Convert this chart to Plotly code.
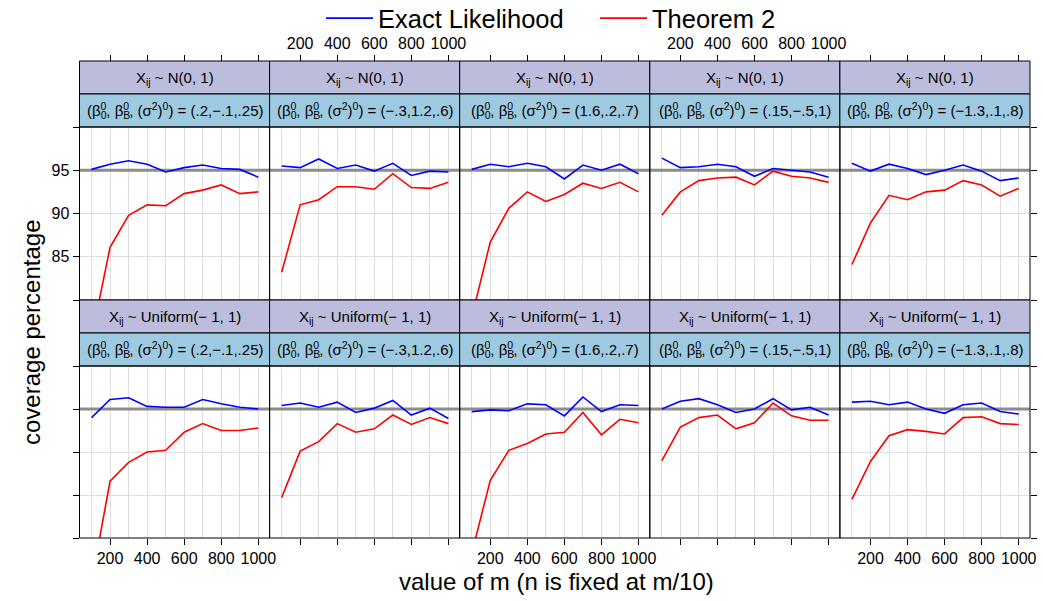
import plotly.graph_objects as go

# sample sizes m on the x axis
m_values = [100, 200, 300, 400, 500, 600, 700, 800, 900, 1000]

# strip labels
design_labels = ["X<sub>ij</sub> ~ N(0, 1)", "X<sub>ij</sub> ~ Uniform(\u2212 1, 1)"]
param_values = [".2,\u2212.1,.25", "\u2212.3,1.2,.6", "1.6,.2,.7", ".15,\u2212.5,1", "\u22121.3,.1,.8"]

# coverage percentages, X_ij ~ N(0, 1)
exact_normal = [
    [95.1, 95.7, 96.1, 95.7, 94.8, 95.3, 95.6, 95.2, 95.1, 94.2],
    [95.5, 95.3, 96.3, 95.2, 95.6, 94.9, 95.8, 94.4, 94.9, 94.8],
    [95.1, 95.7, 95.4, 95.8, 95.4, 94.0, 95.6, 95.0, 95.7, 94.6],
    [96.4, 95.3, 95.4, 95.7, 95.4, 94.3, 95.2, 95.0, 94.8, 94.2],
    [95.8, 94.9, 95.7, 95.2, 94.5, 95.0, 95.6, 94.9, 93.8, 94.1],
]
thm2_normal = [
    [75.6, 86.1, 89.8, 91.0, 90.9, 92.3, 92.7, 93.3, 92.3, 92.5],
    [83.2, 91.0, 91.6, 93.1, 93.1, 92.8, 94.6, 93.0, 92.9, 93.6],
    [78.0, 86.7, 90.6, 92.5, 91.4, 92.2, 93.5, 92.9, 93.6, 92.5],
    [89.8, 92.5, 93.8, 94.1, 94.2, 93.3, 94.9, 94.3, 94.1, 93.6],
    [84.1, 88.9, 92.1, 91.6, 92.5, 92.7, 93.8, 93.3, 92.0, 92.9],
]

# coverage percentages, X_ij ~ Uniform(-1, 1)
exact_uniform = [
    [94.0, 96.1, 96.3, 95.3, 95.2, 95.2, 96.1, 95.6, 95.2, 95.0],
    [95.4, 95.7, 95.2, 95.8, 94.6, 95.1, 96.0, 94.3, 95.1, 93.9],
    [94.7, 94.9, 94.8, 95.6, 95.5, 94.2, 96.4, 94.7, 95.5, 95.4],
    [95.0, 95.9, 96.2, 95.5, 94.6, 95.0, 96.2, 94.9, 95.2, 94.3],
    [95.8, 95.9, 95.5, 95.8, 95.0, 94.5, 95.5, 95.7, 94.7, 94.4],
]
thm2_uniform = [
    [74.9, 86.6, 88.8, 90.0, 90.2, 92.3, 93.3, 92.5, 92.5, 92.8],
    [84.7, 90.1, 91.2, 93.3, 92.3, 92.7, 94.3, 93.2, 94.0, 93.3],
    [78.2, 86.7, 90.2, 91.0, 92.1, 92.3, 94.6, 92.0, 93.8, 93.4],
    [89.0, 92.9, 94.0, 94.3, 92.7, 93.4, 95.7, 94.2, 93.7, 93.7],
    [84.5, 88.9, 91.9, 92.6, 92.4, 92.1, 94.0, 94.1, 93.3, 93.2],
]

NOMINAL = 95
X_RANGE = [35, 1061]
Y_RANGE = [80, 100]
Y_TICKS = [80, 85, 90, 95, 100]
Y_TICKTEXT = ["", "85", "90", "95", ""]

W, H = 1043, 601
FONT = "Liberation Sans, Arial, sans-serif"
BLUE, RED = "#0000ff", "#ff0000"
STRIP1, STRIP2 = "#bcbddc", "#9ecae1"
GRID = "#dedede"

# panel geometry in pixels
col_left = [79.5 + 190.1 * c for c in range(5)]
col_w = 190.1
rows_px = [  # (strip top, strip split, plot top, plot bottom)
    (61, 94, 127, 300),
    (300, 333, 366, 538),
]


def px_x(v):
    return v / W


def px_y(v):
    return 1 - v / H


def param_strip(vals):
    # stack the superscript over the subscript by pulling the sup back
    def stacked(sub, sup, back):
        return (f"<sub><span style='letter-spacing:-{back}px'>{sub}</span></sub>"
                f"<sup>{sup}</sup>")
    return ("(\u03b2" + stacked("0", "0", 6) + ", \u03b2" + stacked("B", "0", 7)
            + ", (\u03c3<sup>2</sup>)<sup>0</sup>) = (" + vals + ")")


fig = go.Figure()
layout = {}
shapes = []
annotations = []

groups = [(exact_normal, thm2_normal), (exact_uniform, thm2_uniform)]

for r in range(2):
    strip_top, strip_mid, plot_top, plot_bot = rows_px[r]
    exact_rows, thm_rows = groups[r]
    for c in range(5):
        i = r * 5 + c + 1
        suffix = "" if i == 1 else str(i)
        xa, ya = f"x{suffix}", f"y{suffix}"
        left = col_left[c]
        right = left + col_w

        # nominal 95% coverage level across the whole panel
        fig.add_trace(go.Scatter(
            x=X_RANGE, y=[NOMINAL, NOMINAL], mode="lines",
            line=dict(color="#8c8c8c", width=3), xaxis=xa, yaxis=ya,
            showlegend=False, hoverinfo="skip"))
        fig.add_trace(go.Scatter(
            x=m_values, y=exact_rows[c], mode="lines", name="Exact Likelihood",
            line=dict(color=BLUE, width=1.6), xaxis=xa, yaxis=ya,
            showlegend=(i == 1), legendgroup="exact",
            legendwidth=212 if i == 1 else None))
        fig.add_trace(go.Scatter(
            x=m_values, y=thm_rows[c], mode="lines", name="Theorem 2",
            line=dict(color=RED, width=1.6), xaxis=xa, yaxis=ya,
            showlegend=(i == 1), legendgroup="thm"))

        xaxis = dict(
            domain=[px_x(left), px_x(right)], range=X_RANGE,
            tick0=0, dtick=200, showgrid=True, gridcolor=GRID, gridwidth=1,
            minor=dict(dtick=100, tick0=0, showgrid=True, gridcolor=GRID,
                       gridwidth=1, ticks=""),
            ticks="outside", ticklen=6, tickcolor="black", tickwidth=1,
            showline=False, zeroline=False,
            tickfont=dict(family=FONT, size=16, color="black"),
        )
        if r == 0:
            xaxis.update(side="top", anchor="free", position=px_y(strip_top),
                         showticklabels=(c in (1, 3)))
        else:
            xaxis.update(anchor=ya, showticklabels=(c in (0, 2, 4)))
        layout[f"xaxis{suffix}"] = xaxis

        yaxis = dict(
            domain=[px_y(plot_bot), px_y(plot_top)], range=Y_RANGE,
            tickvals=Y_TICKS, ticktext=Y_TICKTEXT, anchor=xa,
            showgrid=True, gridcolor=GRID, gridwidth=1,
            showline=False, zeroline=False, tickcolor="black", tickwidth=1,
            ticklen=6, tickfont=dict(family=FONT, size=16, color="black"),
            showticklabels=False, ticks="",
        )
        if c == 0:
            yaxis.update(side="left", ticks="outside", showticklabels=(r == 0))
        elif c == 4:
            yaxis.update(side="right", ticks="outside")
        layout[f"yaxis{suffix}"] = yaxis

        # strips
        shapes.append(dict(type="rect", xref="paper", yref="paper",
                           x0=px_x(left), x1=px_x(right),
                           y0=px_y(strip_mid), y1=px_y(strip_top),
                           fillcolor=STRIP1, line=dict(color="black", width=1)))
        shapes.append(dict(type="rect", xref="paper", yref="paper",
                           x0=px_x(left), x1=px_x(right),
                           y0=px_y(plot_top), y1=px_y(strip_mid),
                           fillcolor=STRIP2, line=dict(color="black", width=1)))
        # panel border
        shapes.append(dict(type="rect", xref="paper", yref="paper",
                           x0=px_x(left), x1=px_x(right),
                           y0=px_y(plot_bot), y1=px_y(plot_top),
                           line=dict(color="black", width=1), layer="above"))

        cx = px_x((left + right) / 2)
        annotations.append(dict(
            text=design_labels[r], xref="paper", yref="paper", x=cx,
            y=px_y((strip_top + strip_mid) / 2 + 1), xanchor="center",
            yanchor="middle", showarrow=False,
            font=dict(family=FONT, size=15, color="black")))
        annotations.append(dict(
            text=param_strip(param_values[c]), xref="paper", yref="paper", x=cx,
            y=px_y((strip_mid + plot_top) / 2), xanchor="center",
            yanchor="middle", showarrow=False,
            font=dict(family=FONT, size=15, color="black")))

annotations.append(dict(
    text="value of m (n is fixed at m/10)", xref="paper", yref="paper",
    x=px_x(556), y=px_y(581), xanchor="center", yanchor="middle",
    showarrow=False, font=dict(family=FONT, size=24, color="black")))
annotations.append(dict(
    text="coverage percentage", xref="paper", yref="paper",
    x=px_x(31), y=px_y(332), xanchor="center", yanchor="middle",
    textangle=-90, showarrow=False,
    font=dict(family=FONT, size=24, color="black")))

fig.update_layout(
    width=W, height=H,
    margin=dict(l=0, r=0, t=0, b=0, autoexpand=False),
    paper_bgcolor="white", plot_bgcolor="white",
    font=dict(family=FONT, color="black"),
    shapes=shapes, annotations=annotations,
    legend=dict(orientation="h", x=px_x(321), xanchor="left",
                y=px_y(-5), yanchor="top", font=dict(family=FONT, size=25.5),
                bgcolor="rgba(0,0,0,0)", itemwidth=47),
    **layout,
)

fig.write_html("out.html")
